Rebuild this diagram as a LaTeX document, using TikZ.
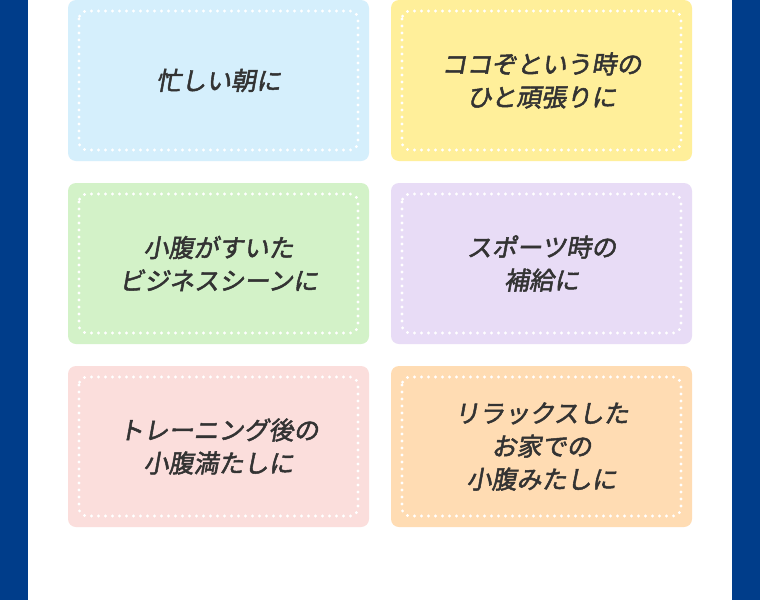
\documentclass[tikz,border=0pt]{standalone}
\usepackage{fontspec}
\newfontfamily\jp[FakeSlant=0.18,FakeBold=2]{Noto Sans CJK JP}
\definecolor{navy}{HTML}{003D8A}
\definecolor{cA}{HTML}{D5EFFC}
\definecolor{cB}{HTML}{FFEF9A}
\definecolor{cC}{HTML}{D3F2C8}
\definecolor{cD}{HTML}{E8DCF6}
\definecolor{cE}{HTML}{FBDEDC}
\definecolor{cF}{HTML}{FFDCB3}
\definecolor{txt}{HTML}{333333}
\begin{document}
\begin{tikzpicture}[x=1pt,y=-1pt,
  card/.style={rounded corners=8pt},
  dots/.style={draw=white,line width=3.2pt,line cap=round,dash pattern=on 0pt off 7pt,rounded corners=8pt},
  lbl/.style={font=\jp\fontsize{25}{33}\selectfont,text=txt,align=center}]
\useasboundingbox (0,0) rectangle (760,600);
\fill[white] (0,0) rectangle (760,600);
\fill[navy] (0,0) rectangle (28,600);
\fill[navy] (732,0) rectangle (760,600);
\foreach \x/\y/\c/\n in {68/0/cA/a,391/0/cB/b,68/183/cC/c,391/183/cD/d,68/366/cE/e,391/366/cF/f}{
  \fill[\c,card] (\x,\y) rectangle ++(301,161);
  \draw[dots] (\x+11,\y+11) rectangle ++(279,139);
  \coordinate (\n) at (\x+150.5,\y+80.5);
}
\node[lbl] (ta) at (a) {忙しい朝に};
\node[lbl] (tb) at (b) {ココぞという時の\\ひと頑張りに};
\node[lbl] (tc) at (c) {小腹がすいた\\ビジネスシーンに};
\node[lbl] (td) at (d) {スポーツ時の\\補給に};
\node[lbl] (te) at (e) {トレーニング後の\\小腹満たしに};
\node[lbl] (tf) at (f) {リラックスした\\お家での\\小腹みたしに};
\end{tikzpicture}
\end{document}
